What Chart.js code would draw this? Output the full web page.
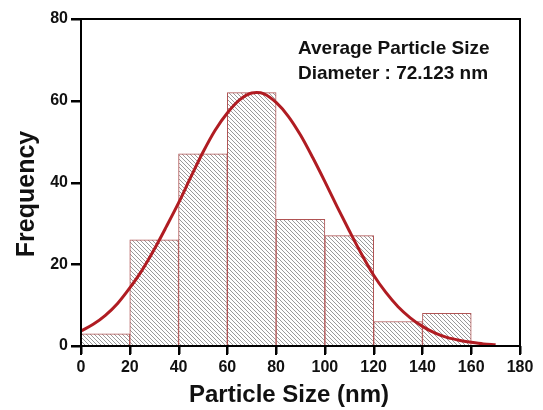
<!DOCTYPE html>
<html>
<head>
<meta charset="utf-8">
<script src="https://cdn.jsdelivr.net/npm/chart.js@4"></script>
<style>
  html, body { margin: 0; padding: 0; background: #fff; }
  #wrap { width: 543px; height: 410px; }
</style>
</head>
<body>
<div id="wrap"><canvas id="hist"></canvas></div>
<script>
// histogram bins (centre of each 20 nm bin) and counts
const bin_centers = [10, 30, 50, 70, 90, 110, 130, 150]
const bin_counts = [3, 26, 47, 62, 31, 27, 6, 8]

// fitted curve
const fit_x = [0, 5, 10, 15, 20, 25, 30, 35, 40, 45, 50, 55, 60, 65, 70, 72, 75, 80, 85, 90, 95, 100, 105, 110, 115, 120, 125, 130, 135, 140, 145, 150, 155, 160, 165, 170]
const fit_y = [3.7, 5.3, 7.5, 10.4, 14.2, 18.5, 23.6, 29.2, 35.0, 41.3, 47.4, 52.8, 57.0, 60.2, 61.9, 62.0, 61.7, 59.6, 56.2, 51.6, 46.1, 40.2, 34.1, 28.2, 22.5, 17.3, 13.1, 9.6, 6.9, 4.8, 3.2, 2.1, 1.4, 0.9, 0.5, 0.3]

const x_ticks = [0, 20, 40, 60, 80, 100, 120, 140, 160, 180]
const y_ticks = [0, 20, 40, 60, 80]

const x_title = 'Particle Size (nm)'
const y_title = 'Frequency'
const note_lines = ['Average Particle Size', 'Diameter : 72.123 nm']

function hatch_pattern() {
    const s = 4
    const c = document.createElement('canvas')
    c.width = s
    c.height = s
    const g = c.getContext('2d')
    g.fillStyle = '#ffffff'
    g.fillRect(0, 0, s, s)
    g.strokeStyle = '#8e8e8e'
    g.lineWidth = 0.9
    g.beginPath()
    g.moveTo(0, 0); g.lineTo(s, s)
    g.moveTo(-1, s - 1); g.lineTo(1, s + 1)
    g.moveTo(s - 1, -1); g.lineTo(s + 1, 1)
    g.stroke()
    return g.createPattern(c, 'repeat')
}

const frame_plugin = {
    id: 'frameAndNote',
    afterDraw: (chart) => {
        const { ctx, chartArea } = chart
        const xs = chart.scales.x
        const ys = chart.scales.y
        ctx.save()
        ctx.strokeStyle = '#000'
        ctx.lineWidth = 2
        ctx.strokeRect(chartArea.left, chartArea.top, chartArea.right - chartArea.left, chartArea.bottom - chartArea.top)

        // outward tick marks
        ctx.fillStyle = '#000'
        x_ticks.forEach(v => {
            const px = Math.round(xs.getPixelForValue(v))
            ctx.fillRect(px - 1, chartArea.bottom, 2.5, 8)
        })
        y_ticks.forEach(v => {
            const py = Math.round(ys.getPixelForValue(v))
            ctx.fillRect(chartArea.left - 10, py - 1, 10, 2.5)
        })

        ctx.fillStyle = '#111'
        ctx.textBaseline = 'alphabetic'
        ctx.font = 'bold 19px "Liberation Sans", Arial, sans-serif'
        ctx.textAlign = 'left'
        ctx.fillText(note_lines[0], 298, 54)
        ctx.fillText(note_lines[1], 298, 79)

        // axis titles
        ctx.font = 'bold 24px "Liberation Sans", Arial, sans-serif'
        ctx.textAlign = 'center'
        ctx.fillText(x_title, 289, 402)

        ctx.translate(34, 194)
        ctx.rotate(-Math.PI / 2)
        ctx.font = 'bold 25px "Liberation Sans", Arial, sans-serif'
        ctx.fillText(y_title, 0, 0)
        ctx.restore()
    }
}

Chart.defaults.font.family = '"Liberation Sans", Arial, sans-serif'
Chart.defaults.color = '#111'

new Chart(document.getElementById('hist'), {
    data: {
        datasets: [
            {
                type: 'line',
                label: 'Fit',
                data: fit_x.map((x, i) => ({ x: x, y: fit_y[i] })),
                borderColor: '#b01c22',
                borderWidth: 3,
                pointRadius: 0,
                cubicInterpolationMode: 'monotone',
                fill: false,
            },
            {
                type: 'bar',
                label: 'Frequency',
                data: bin_centers.map((x, i) => ({ x: x, y: bin_counts[i] })),
                backgroundColor: hatch_pattern(),
                borderColor: '#b05454',
                borderWidth: 1,
                barPercentage: 1,
                categoryPercentage: 1,
            },
        ]
    },
    options: {
        responsive: true,
        maintainAspectRatio: false,
        animation: false,
        layout: { padding: { top: 19, right: 23, left: 0, bottom: 0 } },
        plugins: {
            legend: { display: false },
            tooltip: { enabled: false },
        },
        scales: {
            x: {
                type: 'linear',
                min: 0,
                max: 180,
                offset: false,
                afterBuildTicks: (s) => { s.ticks = x_ticks.map(v => ({ value: v })) },
                afterFit: (s) => { s.height = 64 },
                ticks: { font: { size: 16, weight: 'bold' }, color: '#111', padding: 3 },
                grid: { offset: false, drawOnChartArea: false, color: '#000', lineWidth: 2, tickLength: 9 },
                border: { color: '#000', width: 2 },
            },
            y: {
                min: 0,
                max: 80,
                afterBuildTicks: (s) => { s.ticks = y_ticks.map(v => ({ value: v })) },
                afterFit: (s) => { s.width = 81 },
                ticks: { font: { size: 16, weight: 'bold' }, color: '#111', padding: 3 },
                grid: { drawOnChartArea: false, color: '#000', lineWidth: 2, tickLength: 10 },
                border: { color: '#000', width: 2 },
            },
        },
    },
    plugins: [frame_plugin],
})
</script>
</body>
</html>
